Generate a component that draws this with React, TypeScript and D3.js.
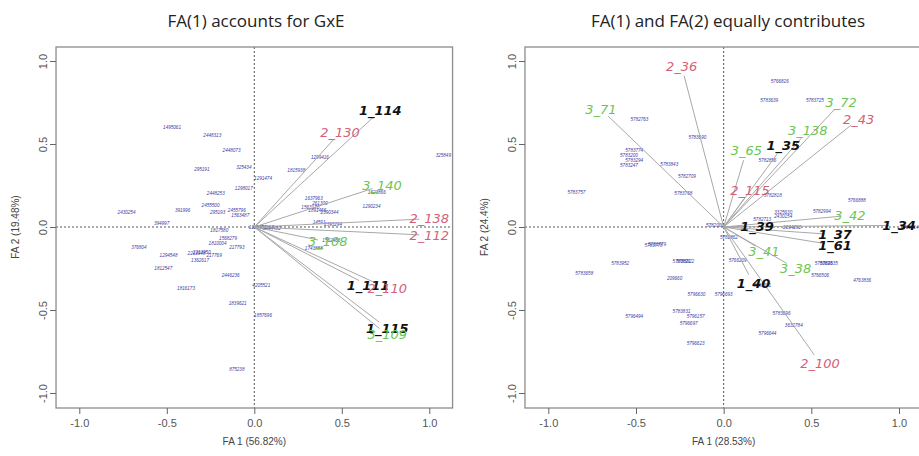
import { useEffect, useRef } from "react";
import * as d3 from "d3";

// axis ticks shared by both biplots
const tickValues = [-1, -0.5, 0, 0.5, 1];
const tickLabels = ["-1.0", "-0.5", "0.0", "0.5", "1.0"];

// left panel: environments (label positions on FA1 / FA2)
const leftEnvNames = ["1_114", "2_130", "3_140", "2_138", "2_112", "3_108", "1_111", "2_110", "1_115", "3_109"];
const leftEnvGroup = [1, 2, 3, 2, 2, 3, 1, 2, 1, 3];
const leftEnvFA1 = [0.72, 0.49, 0.73, 1.0, 1.0, 0.42, 0.65, 0.76, 0.76, 0.76];
const leftEnvFA2 = [0.70, 0.57, 0.25, 0.05, -0.05, -0.09, -0.35, -0.37, -0.61, -0.65];

// left panel: genotypes
const leftGenoNames = [
  "1495061", "2448313", "2448073", "295191", "325434", "1291474", "1298017", "2448253", "2455500", "2430254",
  "391996", "295193", "2455796", "1563487", "394997", "1817580", "1568279", "1810004", "217793", "376804",
  "1294548", "2213948", "2213950", "217769", "1362617", "1812547", "2446236", "1816173", "4205521", "1839621",
  "1857696", "875238", "1743888", "1562466", "1299416", "1815938", "325849", "1623866", "1290234", "1637963",
  "261300", "1563170", "1891466", "2390344", "14591", "2393294", "1295421", "2453367", "1294402",
];
const leftGenoFA1 = [
  -0.47, -0.24, -0.13, -0.30, -0.06, 0.05, -0.06, -0.22, -0.25, -0.73,
  -0.41, -0.21, -0.10, -0.08, -0.53, -0.20, -0.15, -0.21, -0.10, -0.66,
  -0.49, -0.33, -0.30, -0.23, -0.31, -0.52, -0.135, -0.39, 0.04, -0.095,
  0.05, -0.10, 0.34, 0.44, 0.375, 0.24, 1.08, 0.70, 0.67, 0.34,
  0.375, 0.32, 0.36, 0.43, 0.37, 0.45, 0.02, 0.06, 0.10,
];
const leftGenoFA2 = [
  0.60, 0.55, 0.46, 0.35, 0.36, 0.29, 0.23, 0.20, 0.13, 0.09,
  0.10, 0.09, 0.10, 0.07, 0.02, -0.02, -0.07, -0.10, -0.12, -0.12,
  -0.17, -0.16, -0.155, -0.17, -0.20, -0.25, -0.29, -0.37, -0.35, -0.46,
  -0.53, -0.86, -0.13, -0.08, 0.42, 0.34, 0.43, 0.21, 0.125, 0.17,
  0.14, 0.12, 0.10, 0.09, 0.03, 0.016, 0.0, -0.005, -0.01,
];

// right panel: environments
const rightEnvNames = ["2_36", "3_71", "3_72", "2_43", "3_138", "3_65", "1_35", "2_115", "3_42", "1_34", "1_39", "1_37", "1_61", "3_41", "3_38", "1_40", "2_100"];
const rightEnvGroup = [2, 3, 3, 2, 3, 3, 1, 2, 3, 1, 1, 1, 1, 3, 3, 1, 2];
const rightEnvFA1 = [-0.24, -0.70, 0.67, 0.77, 0.48, 0.13, 0.34, 0.15, 0.72, 1.0, 0.19, 0.635, 0.635, 0.23, 0.41, 0.17, 0.55];
const rightEnvFA2 = [0.97, 0.71, 0.75, 0.65, 0.58, 0.46, 0.49, 0.22, 0.07, 0.01, 0.005, -0.046, -0.11, -0.146, -0.25, -0.34, -0.82];

// right panel: genotypes
const rightGenoNames = [
  "5766826", "5783639", "5783725", "5782763", "5783690", "5783774", "5783200", "5783294", "5783247", "5783843",
  "5782709", "5783757", "5783768", "5782856", "5782818", "5766888", "5782994", "3325630", "2430154", "5782713",
  "5782000", "2634282", "5766214", "5782862", "5783778", "5783779", "5783952", "5783658", "5783821", "5783822",
  "209660", "5796630", "5796693", "5766209", "5783695", "5782635", "5766506", "4763836", "5783691", "5796494",
  "5783831", "5796157", "5796697", "5796623", "5783696", "3632784", "5796644",
];
const rightGenoFA1 = [
  0.32, 0.26, 0.52, -0.48, -0.15, -0.51, -0.54, -0.51, -0.54, -0.31,
  -0.21, -0.84, -0.23, 0.25, 0.28, 0.76, 0.56, 0.34, 0.34, 0.22,
  -0.05, 0.39, 1.06, 0.03, -0.40, -0.38, -0.59, -0.795, -0.24, -0.22,
  -0.28, -0.155, 0.0, 0.08, 0.57, 0.60, 0.55, 0.79, 0.22, -0.51,
  -0.24, -0.16, -0.20, -0.16, 0.33, 0.40, 0.25,
];
const rightGenoFA2 = [
  0.88, 0.76, 0.76, 0.65, 0.54, 0.46, 0.43, 0.40, 0.37, 0.38,
  0.305, 0.21, 0.20, 0.40, 0.19, 0.16, 0.095, 0.09, 0.065, 0.046,
  0.01, 0.0, 0.0, -0.06, -0.11, -0.105, -0.22, -0.28, -0.205, -0.205,
  -0.31, -0.405, -0.405, -0.20, -0.22, -0.22, -0.29, -0.32, -0.35, -0.54,
  -0.51, -0.54, -0.58, -0.70, -0.52, -0.59, -0.64,
];

const groupColor: Record<number, string> = { 1: "#111111", 2: "#d4607a", 3: "#6cc64e" };

interface PanelProps {
  title: string;
  titleAnchor: "middle" | "end";
  titleX: number;
  xLabel: string;
  yLabel: string;
  left: number; // pixel of FA1 = -1
  right: number; // pixel of FA1 = 1
  envNames: string[];
  envGroup: number[];
  envFA1: number[];
  envFA2: number[];
  genoNames: string[];
  genoFA1: number[];
  genoFA2: number[];
}

const drawPanel = (svg: d3.Selection<SVGSVGElement, unknown, null, undefined>, p: PanelProps) => {
  const x = d3.scaleLinear().domain([-1, 1]).range([p.left, p.right]);
  const y = d3.scaleLinear().domain([-1, 1]).range([393, 61]);
  const boxTop = 47;
  const boxBottom = 408;
  const boxLeft = x(-1.133);
  const boxRight = x(1.133);

  const g = svg.append("g");

  g.append("text")
    .attr("x", p.titleX)
    .attr("y", 27)
    .attr("text-anchor", p.titleAnchor)
    .attr("font-family", "Open Sans")
    .attr("font-size", 17)
    .attr("fill", "#222")
    .text(p.title);

  // zero reference lines
  g.append("line")
    .attr("x1", boxLeft).attr("x2", boxRight)
    .attr("y1", y(0)).attr("y2", y(0))
    .attr("stroke", "#555").attr("stroke-dasharray", "2,2");
  g.append("line")
    .attr("x1", x(0)).attr("x2", x(0))
    .attr("y1", boxTop).attr("y2", boxBottom)
    .attr("stroke", "#555").attr("stroke-dasharray", "2,2");

  // genotypes
  g.selectAll(".geno")
    .data(p.genoNames)
    .enter()
    .append("text")
    .attr("x", (_d, i) => x(p.genoFA1[i]))
    .attr("y", (_d, i) => y(p.genoFA2[i]))
    .attr("dy", "0.35em")
    .attr("text-anchor", "middle")
    .attr("font-family", "Liberation Sans")
    .attr("font-style", "italic")
    .attr("font-size", 4.6)
    .attr("fill", "#3b3ba6")
    .text((d) => d);

  // environment vectors
  const ends = p.envNames.map((_d, i) => {
    const px = x(p.envFA1[i]) - x(0);
    const py = y(p.envFA2[i]) - y(0);
    const len = Math.hypot(px, py);
    const k = Math.max(len - 10, 0) / len;
    return [x(0) + px * k, y(0) + py * k];
  });
  g.selectAll(".vec")
    .data(ends)
    .enter()
    .append("line")
    .attr("x1", x(0)).attr("y1", y(0))
    .attr("x2", (d) => d[0]).attr("y2", (d) => d[1])
    .attr("stroke", "#a8a8a8")
    .attr("stroke-width", 1);

  g.selectAll(".env")
    .data(p.envNames)
    .enter()
    .append("text")
    .attr("x", (_d, i) => x(p.envFA1[i]))
    .attr("y", (_d, i) => y(p.envFA2[i]))
    .attr("dy", "0.35em")
    .attr("text-anchor", "middle")
    .attr("font-family", "DejaVu Sans")
    .attr("font-style", "italic")
    .attr("font-weight", (_d, i) => (p.envGroup[i] === 1 ? "bold" : "normal"))
    .attr("font-size", 13)
    .attr("fill", (_d, i) => groupColor[p.envGroup[i]])
    .text((d) => d);

  // plot box
  g.append("rect")
    .attr("x", boxLeft).attr("y", boxTop)
    .attr("width", boxRight - boxLeft).attr("height", boxBottom - boxTop)
    .attr("fill", "none").attr("stroke", "#8c8c8c").attr("stroke-width", 1.3);

  const xAxis = g.append("g")
    .attr("transform", `translate(0,${boxBottom})`)
    .call(d3.axisBottom(x).tickValues(tickValues).tickFormat((_d, i) => tickLabels[i]).tickSize(6).tickPadding(5));
  xAxis.select(".domain").remove();
  xAxis.selectAll("line").attr("stroke", "#666");
  xAxis.selectAll("text").attr("fill", "#555").attr("font-family", "Liberation Sans").attr("font-size", 11);

  const yAxis = g.append("g")
    .attr("transform", `translate(${boxLeft},0)`)
    .call(d3.axisLeft(y).tickValues(tickValues).tickFormat((_d, i) => tickLabels[i]).tickSize(6));
  yAxis.select(".domain").remove();
  yAxis.selectAll("line").attr("stroke", "#666");
  yAxis.selectAll("text")
    .attr("x", null).attr("dy", null)
    .attr("transform", "rotate(-90)")
    .attr("y", -9)
    .attr("text-anchor", "middle")
    .attr("fill", "#555").attr("font-family", "Liberation Sans").attr("font-size", 11);

  g.append("text")
    .attr("x", x(0)).attr("y", 445)
    .attr("text-anchor", "middle")
    .attr("font-family", "Liberation Sans").attr("font-size", 10).attr("fill", "#444")
    .text(p.xLabel);
  g.append("text")
    .attr("transform", `translate(${boxLeft - 37},${y(0)}) rotate(-90)`)
    .attr("text-anchor", "middle")
    .attr("font-family", "Liberation Sans").attr("font-size", 10).attr("fill", "#444")
    .text(p.yLabel);
};

export default function App() {
  const svgRef = useRef<SVGSVGElement>(null);

  useEffect(() => {
    const svg = d3.select(svgRef.current as SVGSVGElement);
    svg.selectAll("*").remove();

    drawPanel(svg, {
      title: "FA(1) accounts for GxE",
      titleAnchor: "middle",
      titleX: 256,
      xLabel: "FA 1 (56.82%)",
      yLabel: "FA 2 (19.48%)",
      left: 79.3,
      right: 429.3,
      envNames: leftEnvNames,
      envGroup: leftEnvGroup,
      envFA1: leftEnvFA1,
      envFA2: leftEnvFA2,
      genoNames: leftGenoNames,
      genoFA1: leftGenoFA1,
      genoFA2: leftGenoFA2,
    });

    drawPanel(svg, {
      title: "FA(1) and FA(2) equally contributes",
      titleAnchor: "end",
      titleX: 865,
      xLabel: "FA 1 (28.53%)",
      yLabel: "FA 2 (24.4%)",
      left: 548.3,
      right: 899,
      envNames: rightEnvNames,
      envGroup: rightEnvGroup,
      envFA1: rightEnvFA1,
      envFA2: rightEnvFA2,
      genoNames: rightGenoNames,
      genoFA1: rightGenoFA1,
      genoFA2: rightGenoFA2,
    });
  }, []);

  return (
    <svg
      ref={svgRef}
      width={919}
      height={456}
      style={{ position: "absolute", left: 0, top: 0, background: "#fff" }}
    />
  );
}
